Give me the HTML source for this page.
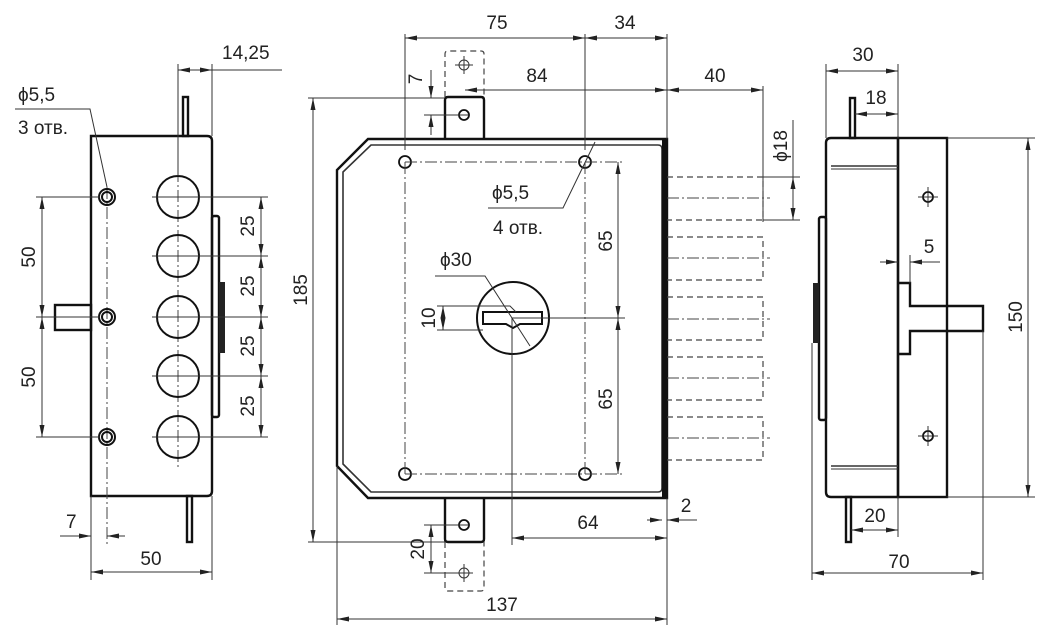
<!DOCTYPE html>
<html><head><meta charset="utf-8"><style>
html,body{margin:0;padding:0;background:#fff}
svg{display:block}
text{font-family:"Liberation Sans","DejaVu Sans",sans-serif;font-size:19px;fill:#222}
.t{stroke:#333;stroke-width:1;fill:none}
.k{stroke:#111;stroke-width:2.4;fill:none}
.dd{stroke:#444;stroke-width:1;fill:none;stroke-dasharray:12 3 2 3}
.ds{stroke:#444;stroke-width:1.2;fill:none;stroke-dasharray:6 4}
.a{stroke:#333;stroke-width:1;fill:none;marker-start:url(#ar);marker-end:url(#ar)}
.a1{stroke:#333;stroke-width:1;fill:none;marker-end:url(#ar)}
</style></head><body>
<svg width="1048" height="636" viewBox="0 0 1048 636" xmlns="http://www.w3.org/2000/svg">
<defs><marker id="ar" viewBox="0 0 12 5" refX="12" refY="2.5" markerWidth="12" markerHeight="5" markerUnits="userSpaceOnUse" orient="auto-start-reverse"><path d="M0,0 L12,2.5 L0,5z" fill="#222"/></marker></defs>

<!-- ===== LEFT VIEW ===== -->
<path class="k" d="M91,136 H207 Q212,136 212,141 V491 Q212,496 207,496 H91 Z"/>
<rect class="k" x="183" y="97" width="5" height="39"/>
<rect class="k" x="187" y="496" width="5" height="46"/>
<rect class="k" x="212" y="216" width="7" height="201" rx="2"/>
<rect x="219" y="282" width="6" height="71" fill="#222"/>
<rect class="k" x="55" y="305" width="36" height="25"/>
<line class="t" x1="58" y1="317" x2="91" y2="317"/>
<line class="dd" x1="107" y1="187" x2="107" y2="545"/>
<line class="dd" x1="178" y1="170" x2="178" y2="470"/>
<g class="k" style="stroke-width:2">
<circle cx="107" cy="197" r="8"/><circle cx="107" cy="197" r="5"/>
<circle cx="107" cy="317" r="8"/><circle cx="107" cy="317" r="5"/>
<circle cx="107" cy="437" r="8"/><circle cx="107" cy="437" r="5"/>
<circle cx="178" cy="197" r="21"/><circle cx="178" cy="256" r="21"/><circle cx="178" cy="317" r="21"/><circle cx="178" cy="376" r="21"/><circle cx="178" cy="437" r="21"/>
</g>
<g class="t">
<line x1="36" y1="197" x2="100" y2="197"/><line x1="36" y1="317" x2="100" y2="317"/><line x1="36" y1="437" x2="100" y2="437"/>
<line x1="152" y1="197" x2="268" y2="197"/><line x1="152" y1="256" x2="268" y2="256"/><line x1="152" y1="317" x2="268" y2="317"/><line x1="152" y1="376" x2="268" y2="376"/><line x1="152" y1="437" x2="268" y2="437"/>
<line x1="178" y1="64" x2="178" y2="176"/><line x1="212" y1="64" x2="212" y2="136"/><line x1="212" y1="70" x2="282" y2="70"/>
<line x1="91" y1="496" x2="91" y2="580"/><line x1="212" y1="496" x2="212" y2="580"/>
<polyline points="15,109 90,109 107,187"/>
</g>
<line class="a" x1="42" y1="197" x2="42" y2="317"/><line class="a" x1="42" y1="317" x2="42" y2="437"/>
<line class="a" x1="261" y1="197" x2="261" y2="256"/><line class="a" x1="261" y1="256" x2="261" y2="317"/><line class="a" x1="261" y1="317" x2="261" y2="376"/><line class="a" x1="261" y1="376" x2="261" y2="437"/>
<line class="a" x1="178" y1="70" x2="212" y2="70"/>
<line class="a" x1="91" y1="572" x2="212" y2="572"/>
<line class="a1" x1="60" y1="536" x2="91" y2="536"/><line class="a1" x1="125" y1="536" x2="107" y2="536"/>
<text x="222" y="59">14,25</text>
<text x="18" y="101">ϕ5,5</text>
<text x="18" y="134">3 отв.</text>
<text transform="translate(35,257) rotate(-90)" text-anchor="middle">50</text>
<text transform="translate(35,377) rotate(-90)" text-anchor="middle">50</text>
<text transform="translate(254,226) rotate(-90)" text-anchor="middle">25</text>
<text transform="translate(254,286) rotate(-90)" text-anchor="middle">25</text>
<text transform="translate(254,346) rotate(-90)" text-anchor="middle">25</text>
<text transform="translate(254,406) rotate(-90)" text-anchor="middle">25</text>
<text x="66" y="528">7</text>
<text x="151" y="565" text-anchor="middle">50</text>

<!-- ===== MIDDLE VIEW ===== -->
<path class="k" d="M368,139 H667 V498 H368 L337,466 V170 Z"/>
<path class="t" style="stroke-width:1.6" d="M371,145 H658 Q662,145 662,149 V488 Q662,492 658,492 H371 L343,464 V172 Z"/>
<line x1="664" y1="140" x2="664" y2="497" stroke="#111" stroke-width="4"/>
<path class="k" d="M445,139 V100 Q445,97 448,97 H481 Q484,97 484,100 V139"/>
<path class="k" d="M445,498 V539 Q445,542 448,542 H481 Q484,542 484,539 V498"/>
<path class="ds" d="M445,97 V54 Q445,51 448,51 H481 Q484,51 484,54 V97"/>
<path class="ds" d="M445,542 V588 Q445,591 448,591 H481 Q484,591 484,588 V542"/>
<g class="k" style="stroke-width:1.8">
<circle cx="464" cy="115" r="5"/><circle cx="464" cy="525" r="5"/>
<circle cx="405" cy="162" r="6"/><circle cx="585" cy="162" r="6"/><circle cx="405" cy="474" r="6"/><circle cx="585" cy="474" r="6"/>
</g>
<g class="t"><circle cx="464" cy="65" r="5"/><circle cx="464" cy="573" r="5"/>
<line x1="455" y1="65" x2="473" y2="65"/><line x1="464" y1="56" x2="464" y2="74"/>
<line x1="455" y1="573" x2="473" y2="573"/><line x1="464" y1="564" x2="464" y2="582"/></g>
<line class="dd" x1="405" y1="162" x2="625" y2="162"/>
<line class="dd" x1="405" y1="474" x2="625" y2="474"/>
<line class="dd" x1="405" y1="162" x2="405" y2="474"/>
<line class="dd" x1="585" y1="162" x2="585" y2="474"/>
<circle class="k" style="stroke-width:2" cx="513" cy="318" r="36"/>
<path class="k" style="stroke-width:2" d="M483,312 H542 V324 H520 L513,328 L506,324 H483 Z"/>
<path class="t" d="M478,306 H510 L516,312"/>
<g class="t">
<line x1="512" y1="318" x2="625" y2="318"/>
<line x1="512" y1="318" x2="512" y2="545"/>
<line x1="437" y1="306" x2="483" y2="306"/><line x1="437" y1="330" x2="483" y2="330"/>
<polyline points="435,276 485,276 530,346"/>
<polyline points="488,208 563,208 595,142"/>
<line x1="405" y1="34" x2="405" y2="150"/><line x1="585" y1="34" x2="585" y2="150"/><line x1="667" y1="34" x2="667" y2="139"/>
<line x1="763" y1="86" x2="763" y2="222"/>
<line x1="763" y1="177" x2="800" y2="177"/><line x1="763" y1="220" x2="800" y2="220"/>
<line x1="308" y1="98" x2="445" y2="98"/><line x1="308" y1="542" x2="445" y2="542"/>
<line x1="424" y1="115" x2="470" y2="115"/>
<line x1="424" y1="525" x2="470" y2="525"/><line x1="424" y1="573" x2="470" y2="573"/>
<line x1="337" y1="466" x2="337" y2="625"/><line x1="667" y1="498" x2="667" y2="625"/>
<line x1="697" y1="520" x2="667" y2="520"/>
</g>
<line class="a1" x1="647" y1="520" x2="662" y2="520"/><line class="a1" x1="697" y1="520" x2="667" y2="520"/>
<line class="a" x1="443" y1="306" x2="443" y2="330"/>
<line class="a" x1="618" y1="162" x2="618" y2="318"/><line class="a" x1="618" y1="318" x2="618" y2="474"/>
<line class="a" x1="405" y1="38" x2="585" y2="38"/><line class="a" x1="585" y1="38" x2="667" y2="38"/>
<line class="a" x1="465" y1="90" x2="667" y2="90"/><line class="a" x1="667" y1="90" x2="763" y2="90"/>
<line class="a1" x1="431" y1="70" x2="431" y2="98"/><line class="a1" x1="431" y1="135" x2="431" y2="115"/>
<line class="a" x1="793" y1="177" x2="793" y2="220"/><line class="t" x1="793" y1="120" x2="793" y2="177"/>
<line class="a" x1="313" y1="98" x2="313" y2="542"/>
<line class="a" x1="431" y1="525" x2="431" y2="573"/>
<line class="a" x1="512" y1="538" x2="667" y2="538"/>
<line class="a" x1="337" y1="619" x2="667" y2="619"/>
<path class="ds" d="M667,177 H763 V220 H667 M667,237 H763 V280 H667 M667,297 H763 V340 H667 M667,357 H763 V400 H667 M667,417 H763 V460 H667"/>
<path class="dd" d="M667,198 H770 M667,258 H770 M667,319 H770 M667,378 H770 M667,438 H770"/>
<text x="497" y="29" text-anchor="middle">75</text>
<text x="625" y="29" text-anchor="middle">34</text>
<text x="537" y="82" text-anchor="middle">84</text>
<text x="715" y="82" text-anchor="middle">40</text>
<text transform="translate(422,79) rotate(-90)" text-anchor="middle">7</text>
<text transform="translate(787,146) rotate(-90)" text-anchor="middle">ϕ18</text>
<text transform="translate(307,290) rotate(-90)" text-anchor="middle">185</text>
<text x="492" y="199">ϕ5,5</text>
<text x="493" y="234">4 отв.</text>
<text x="440" y="266">ϕ30</text>
<text transform="translate(435,318) rotate(-90)" text-anchor="middle">10</text>
<text transform="translate(612,241) rotate(-90)" text-anchor="middle">65</text>
<text transform="translate(612,399) rotate(-90)" text-anchor="middle">65</text>
<text x="588" y="529" text-anchor="middle">64</text>
<text x="686" y="512" text-anchor="middle">2</text>
<text transform="translate(424,549) rotate(-90)" text-anchor="middle">20</text>
<text x="502" y="611" text-anchor="middle">137</text>

<!-- ===== RIGHT VIEW ===== -->
<path class="k" d="M831,138 H898 V497 H831 Q826,497 826,492 V143 Q826,138 831,138 Z"/>
<rect class="k" x="898" y="138" width="49" height="359"/>
<line class="t" style="stroke-width:1.6" x1="831" y1="166" x2="898" y2="166"/><line class="t" x1="831" y1="169" x2="898" y2="169"/>
<line class="t" style="stroke-width:1.6" x1="831" y1="466" x2="898" y2="466"/><line class="t" x1="831" y1="469" x2="898" y2="469"/>
<rect class="k" x="850" y="98" width="5" height="40"/>
<rect class="k" x="846" y="497" width="5" height="45"/>
<rect class="k" x="819" y="217" width="7" height="203" rx="2"/>
<rect x="813" y="283" width="6" height="60" fill="#222"/>
<path class="k" d="M898,283 H910 V306 H983 V331 H910 V354 H898"/>
<g class="k" style="stroke-width:1.8"><circle cx="928" cy="197" r="5"/><circle cx="928" cy="436" r="5"/></g>
<g class="t">
<line x1="918" y1="197" x2="938" y2="197"/><line x1="928" y1="187" x2="928" y2="207"/>
<line x1="918" y1="436" x2="938" y2="436"/><line x1="928" y1="426" x2="928" y2="446"/>
<line x1="826" y1="64" x2="826" y2="138"/><line x1="898" y1="64" x2="898" y2="138"/>
<line x1="898" y1="497" x2="898" y2="537"/>
<line x1="910" y1="255" x2="910" y2="283"/>
<line x1="947" y1="138" x2="1035" y2="138"/><line x1="947" y1="497" x2="1035" y2="497"/>
<line x1="812" y1="343" x2="812" y2="580"/><line x1="983" y1="331" x2="983" y2="580"/>
<line x1="910" y1="262" x2="940" y2="262"/>
</g>
<line class="a" x1="826" y1="71" x2="898" y2="71"/>
<line class="a" x1="855" y1="114" x2="898" y2="114"/>
<line class="a1" x1="880" y1="262" x2="898" y2="262"/><line class="a1" x1="925" y1="262" x2="910" y2="262"/>
<line class="a" x1="1028" y1="138" x2="1028" y2="497"/>
<line class="a" x1="851" y1="530" x2="898" y2="530"/>
<line class="a" x1="812" y1="573" x2="983" y2="573"/>
<text x="863" y="61" text-anchor="middle">30</text>
<text x="876" y="104" text-anchor="middle">18</text>
<text x="929" y="253" text-anchor="middle">5</text>
<text transform="translate(1022,317) rotate(-90)" text-anchor="middle">150</text>
<text x="875" y="522" text-anchor="middle">20</text>
<text x="899" y="568" text-anchor="middle">70</text>
</svg>
</body></html>
